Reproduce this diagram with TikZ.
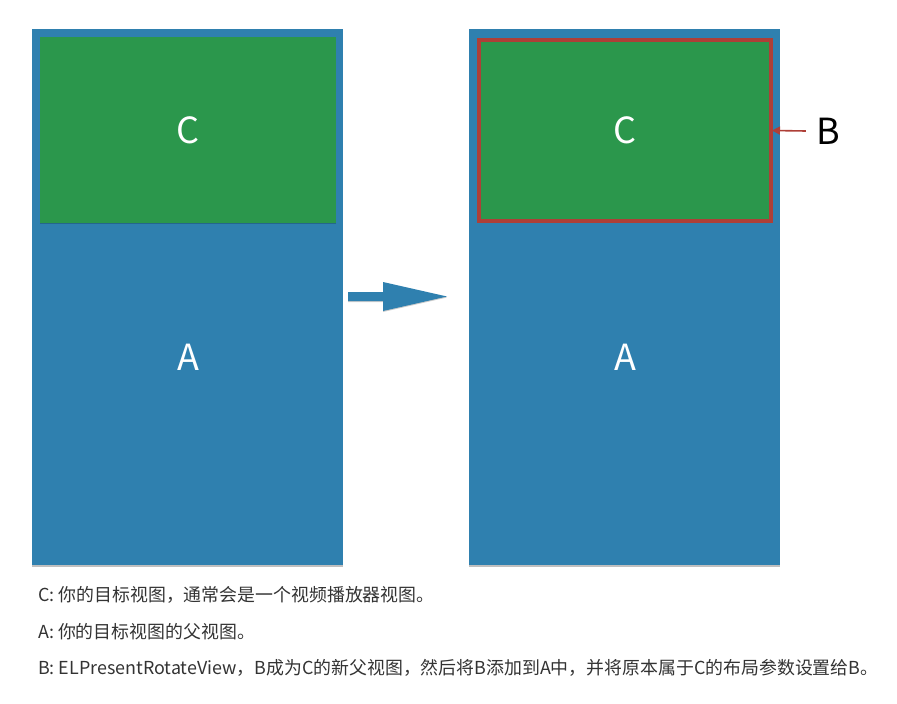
\documentclass[tikz,border=0pt]{standalone}
\usepackage{fontspec}
\setmainfont{Noto Sans CJK SC}
\usetikzlibrary{arrows.meta,shadows}
\definecolor{ablue}{HTML}{2F80AF}
\definecolor{cgreen}{HTML}{2B974C}
\definecolor{bred}{HTML}{AE3F37}
\definecolor{txt}{HTML}{333333}
\begin{document}
\begin{tikzpicture}[x=1pt,y=-1pt,
  viewbox/.style={rectangle, inner sep=0pt, outer sep=0pt, anchor=north west},
  aview/.style={viewbox, fill=ablue, drop shadow={shadow xshift=0pt, shadow yshift=-2pt, opacity=0.25, fill=black}},
  cview/.style={viewbox, fill=cgreen},
  biglabel/.style={text=white, font=\fontsize{36}{36}\selectfont},
  caption/.style={anchor=base west, inner sep=0pt, text=txt, font=\fontsize{17.9}{17.9}\selectfont}]
\useasboundingbox (0,0) rectangle (897,704);
% left
\node[aview, minimum width=311pt, minimum height=536pt] (aleft) at (32,29) {};
\node[cview, minimum width=296pt, minimum height=186pt, drop shadow={shadow xshift=0pt, shadow yshift=-1pt, opacity=0.2, fill=black}] (cleft) at (40,37) {};
\node[biglabel] (clabl) at (cleft.center) {C};
\node[biglabel] (alabl) at (188,357) {A};
% right
\node[aview, minimum width=311pt, minimum height=536pt] (aright) at (469,29) {};
\node[cview, draw=bred, line width=4pt, minimum width=292pt, minimum height=181pt, drop shadow={shadow xshift=0pt, shadow yshift=-1pt, opacity=0.2, fill=black}] (cright) at (479,40) {};
\node[biglabel] (clabr) at (cright.center) {C};
\node[biglabel] (alabr) at (625,357) {A};
\node[font=\fontsize{36}{36}\selectfont, text=black, inner sep=0pt] (blab) at (828,131) {B};
\draw[bred, line width=1.6pt, -{Triangle[length=8pt,width=8pt]}] ([xshift=-10pt]blab.west) -- ([xshift=1pt]cright.east);
% big arrow
\fill[ablue, drop shadow={shadow xshift=0pt, shadow yshift=-1pt, opacity=0.2, fill=black}]
  (348,292) -- (383,292) -- (383,282) -- (447,296.5) -- (383,311) -- (383,301) -- (348,301) -- cycle;
% captions
\node[caption] (l1) at (38,601) {C: 你的目标视图，通常会是一个视频播放器视图。};
\node[caption] (l2) at (38,638) {A: 你的目标视图的父视图。};
\node[caption] (l3) at (38,674) {B: ELPresentRotateView，B成为C的新父视图，然后将B添加到A中，并将原本属于C的布局参数设置给B。};
\end{tikzpicture}
\end{document}
